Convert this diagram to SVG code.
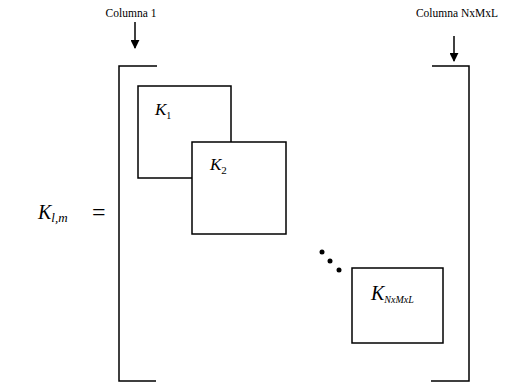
<svg xmlns="http://www.w3.org/2000/svg" width="520" height="386" viewBox="0 0 520 386">
<defs>
<style>
.lbl{font-family:"Liberation Serif","Times New Roman",serif;font-size:11.5px;fill:#000}
.math{font-family:"Liberation Serif","Times New Roman",serif;font-style:italic;fill:#000}
.box{fill:#fff;stroke:#000;stroke-width:1.5}
.br{fill:none;stroke:#000;stroke-width:1.5}
.ar{stroke:#000;stroke-width:1.5;fill:none}
</style>
<marker id="ah" viewBox="0 0 10 10" refX="9" refY="5" markerWidth="6" markerHeight="6" orient="auto">
<path d="M0,0 L10,5 L0,10 z" fill="#000"/>
</marker>
</defs>
<rect width="520" height="386" fill="#fff"/>
<g id="bracket-left"><path class="br" d="M157,66 H119 V381 H156"/></g>
<g id="bracket-right"><path class="br" d="M432,66 H469 V381 H431"/></g>
<g id="label-col1"><text class="lbl" x="131" y="17" text-anchor="middle">Columna 1</text></g>
<g id="label-colN"><text class="lbl" x="457" y="17" text-anchor="middle">Columna NxMxL</text></g>
<g id="connectors">
<line class="ar" x1="135" y1="22" x2="135" y2="48" marker-end="url(#ah)"/>
<line class="ar" x1="454" y1="36" x2="454" y2="61" marker-end="url(#ah)"/>
</g>
<g id="K1"><rect class="box" x="138" y="86" width="93" height="92"/>
<text class="math" x="155" y="115" font-size="17">K<tspan font-size="10" font-style="normal" dy="4">1</tspan></text></g>
<g id="K2"><rect class="box" x="192" y="142" width="94" height="92"/>
<text class="math" x="210" y="170" font-size="17">K<tspan font-size="11" font-style="normal" dy="4">2</tspan></text></g>
<g id="dots"><circle cx="322" cy="252" r="2.5"/><circle cx="330" cy="261" r="2.5"/><circle cx="339" cy="270" r="2.5"/></g>
<g id="KN"><rect class="box" x="352" y="268" width="91" height="75"/>
<text class="math" x="371" y="300" font-size="20">K<tspan font-size="10" dy="3">NxMxL</tspan></text></g>
<g id="Klm"><text class="math" x="38" y="219" font-size="20">K<tspan font-size="13" dy="3">l,m</tspan></text>
<text x="92" y="220" font-family="'Liberation Serif','Times New Roman',serif" font-size="24">=</text></g>
</svg>
